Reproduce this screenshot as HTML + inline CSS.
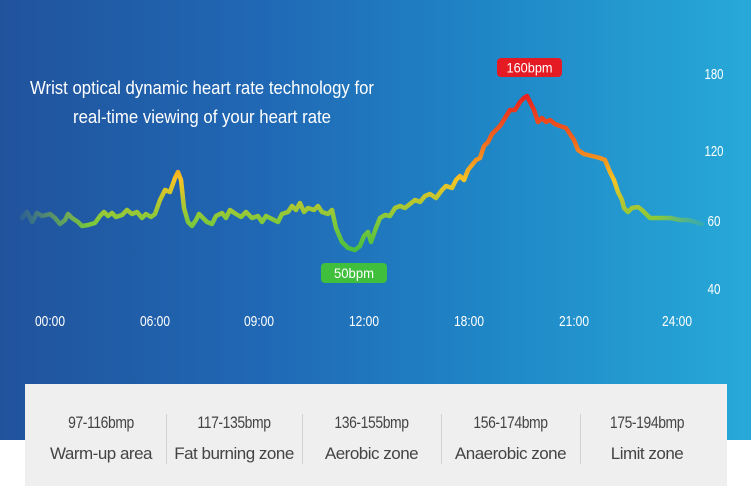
<!DOCTYPE html>
<html><head><meta charset="utf-8"><style>
html,body{margin:0;padding:0;width:751px;height:486px;overflow:hidden;background:#fff;font-family:"Liberation Sans",sans-serif}
.bg{position:absolute;left:0;top:0;width:751px;height:440px;background:linear-gradient(90deg,#21539c 0%,#2068b5 35%,#1f86c6 65%,#27a9d8 100%)}
.panel{position:absolute;left:25px;top:384px;width:702px;height:102px;background:#efefef}
.col{position:absolute;top:29px;text-align:center;color:#444}
.col .a{font-size:17px;letter-spacing:-0.5px;transform:scaleX(.82)}
.col .b{font-size:17px;margin-top:11px;letter-spacing:-0.5px}
.sep{position:absolute;top:30px;width:1px;height:50px;background:#d2d2d2}
</style></head><body>
<div class="bg"></div>
<svg width="751" height="486" style="position:absolute;left:0;top:0">
<defs>
<linearGradient id="g" gradientUnits="userSpaceOnUse" x1="0" y1="95" x2="0" y2="250">
<stop offset="0" stop-color="#e8201e"/><stop offset="0.3" stop-color="#f06a1e"/><stop offset="0.55" stop-color="#f5c423"/><stop offset="0.8" stop-color="#86c93a"/><stop offset="1" stop-color="#4bbf3e"/></linearGradient>
<linearGradient id="m" gradientUnits="userSpaceOnUse" x1="20" y1="0" x2="705" y2="0">
<stop offset="0" stop-color="#fff" stop-opacity="0.1"/><stop offset="0.1" stop-color="#fff"/><stop offset="0.93" stop-color="#fff"/><stop offset="1" stop-color="#fff" stop-opacity="0.15"/></linearGradient>
<mask id="mk"><rect x="0" y="0" width="751" height="486" fill="url(#m)"/></mask>
</defs>
<g mask="url(#mk)">
<polyline fill="none" stroke="url(#g)" stroke-width="4.5" stroke-linejoin="round" stroke-linecap="round" points="22,218 27,212 32,222 37,213 42,216 50,214 55,218 60,224 65,220 68,214 72,218 78,222 82,226 88,225 95,223 100,216 104,212 108,216 112,213 116,217 122,215 127,210 132,214 137,212 142,218 146,214 151,217 155,214 160,200 165,190 170,192 175,178 178,172 181,180 184,208 188,222 192,226 196,220 199,214 203,218 207,222 212,224 216,216 222,213 226,218 230,210 236,214 241,217 246,212 252,218 258,216 262,222 266,216 272,219 278,222 282,214 288,212 292,206 296,210 300,203 304,212 308,208 314,210 318,206 322,212 328,214 332,210 336,228 342,242 348,248 355,250 360,246 364,236 368,232 371,242 376,228 380,218 385,215 390,216 395,208 400,206 405,208 410,204 415,200 420,202 425,196 430,194 436,198 442,190 446,186 452,188 456,180 460,176 464,180 468,170 472,165 476,160 480,158 484,146 488,142 492,134 496,130 500,126 505,118 510,110 515,110 520,102 524,98 527,96 530,102 534,110 538,122 542,118 546,122 550,120 555,124 560,126 566,128 570,134 574,140 578,150 584,154 592,156 600,158 605,160 610,172 614,180 618,192 622,200 624,208 628,212 632,208 638,207 642,210 646,214 650,218 660,218 670,218 680,220 688,220 695,222 702,224"/>
</g>
<rect x="497" y="58" width="65" height="19" rx="4" fill="#e51b24"/>
<text x="529.5" y="72.5" text-anchor="middle" fill="#fff" font-size="14" textLength="46" lengthAdjust="spacingAndGlyphs">160bpm</text>
<rect x="321" y="263" width="66" height="20" rx="4" fill="#3fbf3b"/>
<text x="354" y="278" text-anchor="middle" fill="#fff" font-size="14" textLength="40" lengthAdjust="spacingAndGlyphs">50bpm</text>
<g fill="#fff" font-size="15" text-anchor="middle">
<text x="714" y="79" textLength="19" lengthAdjust="spacingAndGlyphs">180</text><text x="714" y="156" textLength="19" lengthAdjust="spacingAndGlyphs">120</text><text x="714" y="226" textLength="13" lengthAdjust="spacingAndGlyphs">60</text><text x="714" y="294" textLength="13" lengthAdjust="spacingAndGlyphs">40</text>
<text x="50" y="326" textLength="30" lengthAdjust="spacingAndGlyphs">00:00</text><text x="155" y="326" textLength="30" lengthAdjust="spacingAndGlyphs">06:00</text><text x="259" y="326" textLength="30" lengthAdjust="spacingAndGlyphs">09:00</text><text x="364" y="326" textLength="30" lengthAdjust="spacingAndGlyphs">12:00</text><text x="469" y="326" textLength="30" lengthAdjust="spacingAndGlyphs">18:00</text><text x="574" y="326" textLength="30" lengthAdjust="spacingAndGlyphs">21:00</text><text x="677" y="326" textLength="30" lengthAdjust="spacingAndGlyphs">24:00</text>
</g>
<g fill="#fff" font-size="18" text-anchor="middle">
<text x="202" y="94" textLength="344" lengthAdjust="spacingAndGlyphs">Wrist optical dynamic heart rate technology for</text>
<text x="202" y="123" textLength="258" lengthAdjust="spacingAndGlyphs">real-time viewing of your heart rate</text>
</g>
</svg>
<div class="panel">
<div class="col" style="left:0;width:152px"><div class="a">97-116bmp</div><div class="b">Warm-up area</div></div>
<div class="sep" style="left:141px"></div>
<div class="col" style="left:142px;width:134px"><div class="a">117-135bmp</div><div class="b">Fat burning zone</div></div>
<div class="sep" style="left:277px"></div>
<div class="col" style="left:277px;width:139px"><div class="a">136-155bmp</div><div class="b">Aerobic zone</div></div>
<div class="sep" style="left:416px"></div>
<div class="col" style="left:416px;width:139px"><div class="a">156-174bmp</div><div class="b">Anaerobic zone</div></div>
<div class="sep" style="left:555px"></div>
<div class="col" style="left:555px;width:134px"><div class="a">175-194bmp</div><div class="b">Limit zone</div></div>
</div>
</body></html>
